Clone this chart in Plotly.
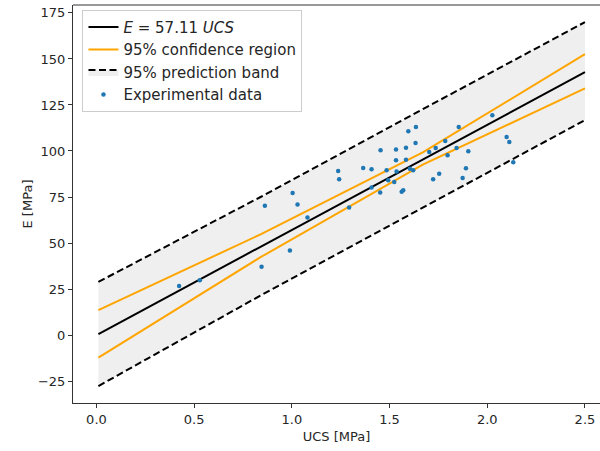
import plotly.graph_objects as go

# ---- data ----
ucs = [2.026, 1.854, 1.635, 1.596, 1.633, 1.454, 1.533, 1.584, 1.736, 1.785,
       1.903, 2.099, 2.113, 2.133, 1.843, 1.703, 1.797, 1.533, 1.584, 1.365,
       1.408, 1.237, 1.485, 1.536, 1.604, 1.621, 1.242, 1.723, 1.754, 1.891,
       1.874, 1.493, 1.524, 1.408, 1.452, 1.562, 1.570, 1.004, 1.029, 0.862,
       1.293, 1.080, 0.990, 0.845, 0.423, 0.529]
e_mod = [119.4, 113.0, 113.0, 110.7, 104.3, 100.4, 100.8, 101.8, 101.6, 105.4,
         99.8, 107.6, 104.9, 93.9, 101.6, 99.5, 97.7, 94.9, 95.3, 90.8,
         90.1, 89.1, 89.5, 88.8, 90.4, 89.5, 84.6, 84.6, 87.7, 90.6,
         85.3, 84.1, 83.2, 80.1, 77.4, 77.8, 78.7, 77.2, 70.9, 70.2,
         69.3, 63.9, 46.0, 37.1, 26.6, 29.8]

slope = 57.11
fit_x = [0.01, 2.5]

band_x = [0.01, 0.84, 1.67, 2.5]
conf_upper = [13.6, 54.7, 99.2, 152.6]
conf_lower = [-12.3, 42.3, 92.6, 134.0]
pred_upper = [28.9, 75.0, 122.7, 170.0]
pred_lower = [-27.7, 21.5, 69.2, 116.8]

x_ticks = [0.0, 0.5, 1.0, 1.5, 2.0, 2.5]
x_tick_labels = ["0.0", "0.5", "1.0", "1.5", "2.0", "2.5"]
y_ticks = [-25, 0, 25, 50, 75, 100, 125, 150, 175]

FONT = "DejaVu Sans"
ORANGE = "#FFA500"
TXT = "#262626"

fig = go.Figure()

# prediction band (lower, no legend) then upper with fill
fig.add_trace(go.Scatter(
    x=band_x, y=pred_lower, mode="lines",
    line=dict(color="black", width=2, dash="7px,3.5px"),
    showlegend=False, hoverinfo="skip"))
fig.add_trace(go.Scatter(
    x=band_x, y=pred_upper, mode="lines",
    line=dict(color="black", width=2, dash="7px,3.5px"),
    fill="tonexty", fillcolor="#efefef",
    name="95% prediction band", legendrank=3))

# confidence region
fig.add_trace(go.Scatter(
    x=band_x, y=conf_upper, mode="lines",
    line=dict(color=ORANGE, width=2),
    name="95% confidence region", legendgroup="conf", legendrank=2))
fig.add_trace(go.Scatter(
    x=band_x, y=conf_lower, mode="lines",
    line=dict(color=ORANGE, width=2),
    legendgroup="conf", showlegend=False))

# fit line
fig.add_trace(go.Scatter(
    x=fit_x, y=[slope * v for v in fit_x], mode="lines",
    line=dict(color="black", width=2),
    name="<i>E</i> = 57.11 <i>UCS</i>", legendrank=1))

# experimental data
fig.add_trace(go.Scatter(
    x=ucs, y=e_mod, mode="markers",
    marker=dict(color="#1f77b4", size=4.5),
    name="Experimental data", legendrank=4))

axis_common = dict(
    showgrid=False, zeroline=False, showline=True, linecolor="#333333",
    linewidth=1, ticks="outside", ticklen=4, tickcolor="#333333",
    tickfont=dict(family=FONT, size=13, color=TXT),
)

fig.update_xaxes(
    range=[-0.12, 2.577], tickvals=x_ticks, ticktext=x_tick_labels,
    title=dict(text="UCS [MPa]", font=dict(family=FONT, size=13, color=TXT), standoff=6),
    mirror=False, **axis_common)
fig.update_yaxes(
    range=[-36.9, 179.3], tickvals=y_ticks,
    title=dict(text="E [MPa]", font=dict(family=FONT, size=13, color=TXT), standoff=2),
    **axis_common)

fig.update_layout(
    width=600, height=451,
    margin=dict(l=73, r=0, t=5, b=48),
    paper_bgcolor="white", plot_bgcolor="white",
    font=dict(family=FONT, size=13, color=TXT),
    legend=dict(
        x=0.018, y=0.988, xanchor="left", yanchor="top",
        bgcolor="rgba(255,255,255,0.85)", bordercolor="#cccccc", borderwidth=1,
        font=dict(family=FONT, size=15, color=TXT),
        traceorder="normal",
    ),
    showlegend=True,
)

# top spine (matplotlib style box, right side is cropped in the reference)
fig.add_shape(type="line", xref="paper", yref="paper", x0=0, x1=1, y0=1, y1=1,
              line=dict(color="#333333", width=1))

fig.write_html("out.html")
